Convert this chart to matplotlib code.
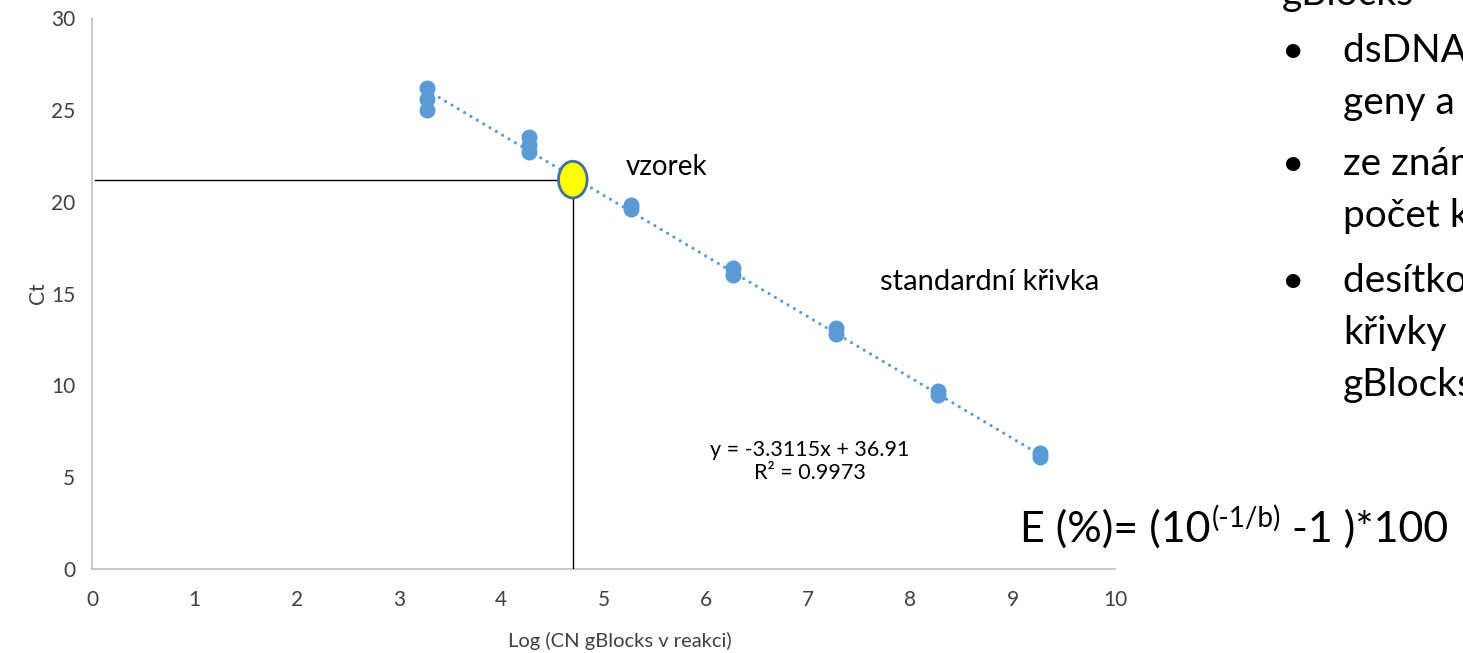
import numpy as np
import matplotlib.pyplot as plt
from matplotlib.patches import Ellipse

plt.rcParams['font.family'] = ['Lato', 'DejaVu Sans']

# standard curve data (log copy number vs Ct)
log_cn = [3.27, 3.27, 3.27, 4.27, 4.27, 4.27, 5.27, 5.27, 6.27, 6.27,
          7.27, 7.27, 8.27, 8.27, 9.27, 9.27]
ct = [26.2, 25.6, 25.0, 23.5, 23.1, 22.7, 19.8, 19.6, 16.4, 16.0,
      13.1, 12.8, 9.7, 9.5, 6.3, 6.1]

# trendline reported on the chart
slope = -3.3115
intercept = 36.91
r2 = 0.9973

# unknown sample
sample_log = 4.70
sample_ct = 21.2

x_ticks = [0, 1, 2, 3, 4, 5, 6, 7, 8, 9, 10]
y_ticks = [0, 5, 10, 15, 20, 25, 30]

bullet_lines = [
    ("", "gBlocks"),
    ("•", "dsDNA fragmenty"),
    ("", "geny a amplikony"),
    ("•", "ze známé koncentrace"),
    ("", "počet kopií"),
    ("•", "desítková ředění"),
    ("", "křivky"),
    ("", "gBlocks"),
]
bullet_y_px = [5, 62, 114, 175, 227, 292, 344, 396]

W, H = 1463, 653
fig = plt.figure(figsize=(W / 100, H / 100), dpi=100)
ax = fig.add_axes([92 / W, 1 - 569 / H, (1115 - 92) / W, (569 - 18) / H])

blue = '#5B9BD5'
grey = '#404040'

# trendline over data range
xs = np.array([min(log_cn), max(log_cn)])
ax.plot(xs, slope * xs + intercept, color=blue, lw=2.3, ls=(0, (0.01, 2.3)),
        dash_capstyle='round', zorder=2)
ax.plot(log_cn, ct, 'o', color=blue, ms=10.5, mec=blue, zorder=3)

# sample guide lines
ax.plot([0.03, sample_log], [sample_ct, sample_ct], color='black', lw=1, zorder=4)
ax.plot([sample_log, sample_log], [0, sample_ct], color='black', lw=1, zorder=4)
ax.add_patch(Ellipse((sample_log, sample_ct), 0.28, 2.0, facecolor='#FFFF00',
                     edgecolor='#41719C', lw=2, zorder=5))

ax.text(5.22, 21.9, 'vzorek', fontsize=20, va='center', ha='left')
ax.text(7.70, 15.6, 'standardní křivka', fontsize=21, va='center', ha='left')
ax.text(7.02, 5.86, f'y = {slope}x + {intercept}\nR² = {r2}', fontsize=15.5,
        ha='center', va='center', linespacing=1.2)

ax.set_xlim(0, 10)
ax.set_ylim(0, 30)
ax.set_xticks(x_ticks)
ax.set_yticks(y_ticks)
ax.tick_params(length=0, labelsize=15, labelcolor=grey)
ax.tick_params(axis='x', pad=15)
ax.tick_params(axis='y', pad=12)
for s in ['top', 'right']:
    ax.spines[s].set_visible(False)
for s in ['left', 'bottom']:
    ax.spines[s].set_color('#BFBFBF')
    ax.spines[s].set_linewidth(1.2)
ax.set_xlabel('Log (CN gBlocks v reakci)', fontsize=14.5, color=grey)
ax.xaxis.set_label_coords((620 - 92) / 1023, -0.115)
ax.set_ylabel('Ct', fontsize=15, color=grey)
ax.yaxis.set_label_coords(-(92 - 48) / 1023, 0.5)

# slide text at right
for (b, t), ypx in zip(bullet_lines, bullet_y_px):
    yf = 1 - ypx / H
    if b:
        fig.text(1282 / W, yf, b, fontsize=28, va='baseline', ha='left')
    x0 = 1282 if ypx < 20 else 1343
    fig.text(x0 / W, yf, t, fontsize=28, va='baseline', ha='left')

# efficiency formula, built from pieces so the exponent is a real superscript
r = fig.canvas.get_renderer()
yb = 1 - 542 / H
t1 = fig.text(1020 / W, yb, 'E (%)= (10', fontsize=31, va='baseline')
x1 = t1.get_window_extent(renderer=r).x1 / W
t2 = fig.text(x1 + 1 / W, yb + 15 / H, '(-1/b)', fontsize=20, va='baseline')
x2 = t2.get_window_extent(renderer=r).x1 / W
fig.text(x2, yb, ' -1 )*100', fontsize=31, va='baseline')

fig.savefig('out.png', dpi=100)
